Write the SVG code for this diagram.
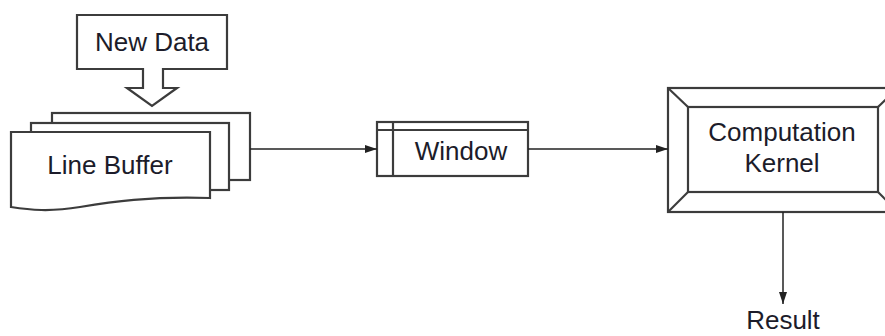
<svg xmlns="http://www.w3.org/2000/svg" width="885" height="336" viewBox="0 0 885 336">
  <style>
    .shape { fill: #ffffff; stroke: #3c3c3c; stroke-width: 2.2; stroke-linejoin: miter; }
    .edge { fill: none; stroke: #222222; stroke-width: 1.5; }
    .label { font-family: "Liberation Sans", Arial, sans-serif; font-size: 26px; fill: #1c1c2a; text-anchor: middle; }
  </style>
  <defs>
    <marker id="arrow" viewBox="0 0 12 8" refX="12" refY="4" markerWidth="12" markerHeight="8" markerUnits="userSpaceOnUse" orient="auto">
      <path d="M0,0 L12,4 L0,8 Z" fill="#222222"/>
    </marker>
  </defs>
  <rect width="885" height="336" fill="#ffffff"/>

  <!-- Incoming data callout -->
  <g id="new-data">
    <path class="shape" d="M77,15 H227 V69 H163 V88 H177 L152,106 L127,88 H143 V69 H77 Z"/>
    <text class="label" x="152" y="51">New Data</text>
  </g>

  <!-- Stacked line buffer sheets -->
  <g id="line-buffer">
    <rect class="shape" x="52" y="113" width="198" height="67"/>
    <rect class="shape" x="31" y="123" width="198" height="67"/>
    <path class="shape" d="M11,132 H210 V198 C150,196 110,202 80,207 C50,212 30,210 11,207 Z"/>
    <text class="label" x="110" y="174">Line Buffer</text>
  </g>

  <!-- Sliding window -->
  <g id="window">
    <rect class="shape" x="377" y="122" width="151" height="54"/>
    <line class="shape" x1="377" y1="130" x2="528" y2="130"/>
    <line class="shape" x1="393" y1="122" x2="393" y2="176"/>
    <text class="label" x="461" y="160">Window</text>
  </g>

  <!-- Computation kernel (bevelled box) -->
  <g id="kernel">
    <rect class="shape" x="668" y="88" width="230" height="124"/>
    <rect class="shape" x="688" y="107" width="190" height="85"/>
    <line class="shape" x1="668" y1="88" x2="688" y2="107"/>
    <line class="shape" x1="668" y1="212" x2="688" y2="192"/>
    <line class="shape" x1="898" y1="88" x2="878" y2="107"/>
    <line class="shape" x1="898" y1="212" x2="878" y2="192"/>
    <text class="label" x="782" y="141">Computation</text>
    <text class="label" x="782" y="172">Kernel</text>
  </g>

  <g id="result">
    <text class="label" x="783" y="329">Result</text>
  </g>

  <!-- Connectors -->
  <g id="connectors">
    <line class="edge" x1="250" y1="149" x2="377" y2="149" marker-end="url(#arrow)"/>
    <line class="edge" x1="528" y1="149" x2="668" y2="149" marker-end="url(#arrow)"/>
    <line class="edge" x1="783" y1="212" x2="783" y2="304" marker-end="url(#arrow)"/>
  </g>
</svg>
